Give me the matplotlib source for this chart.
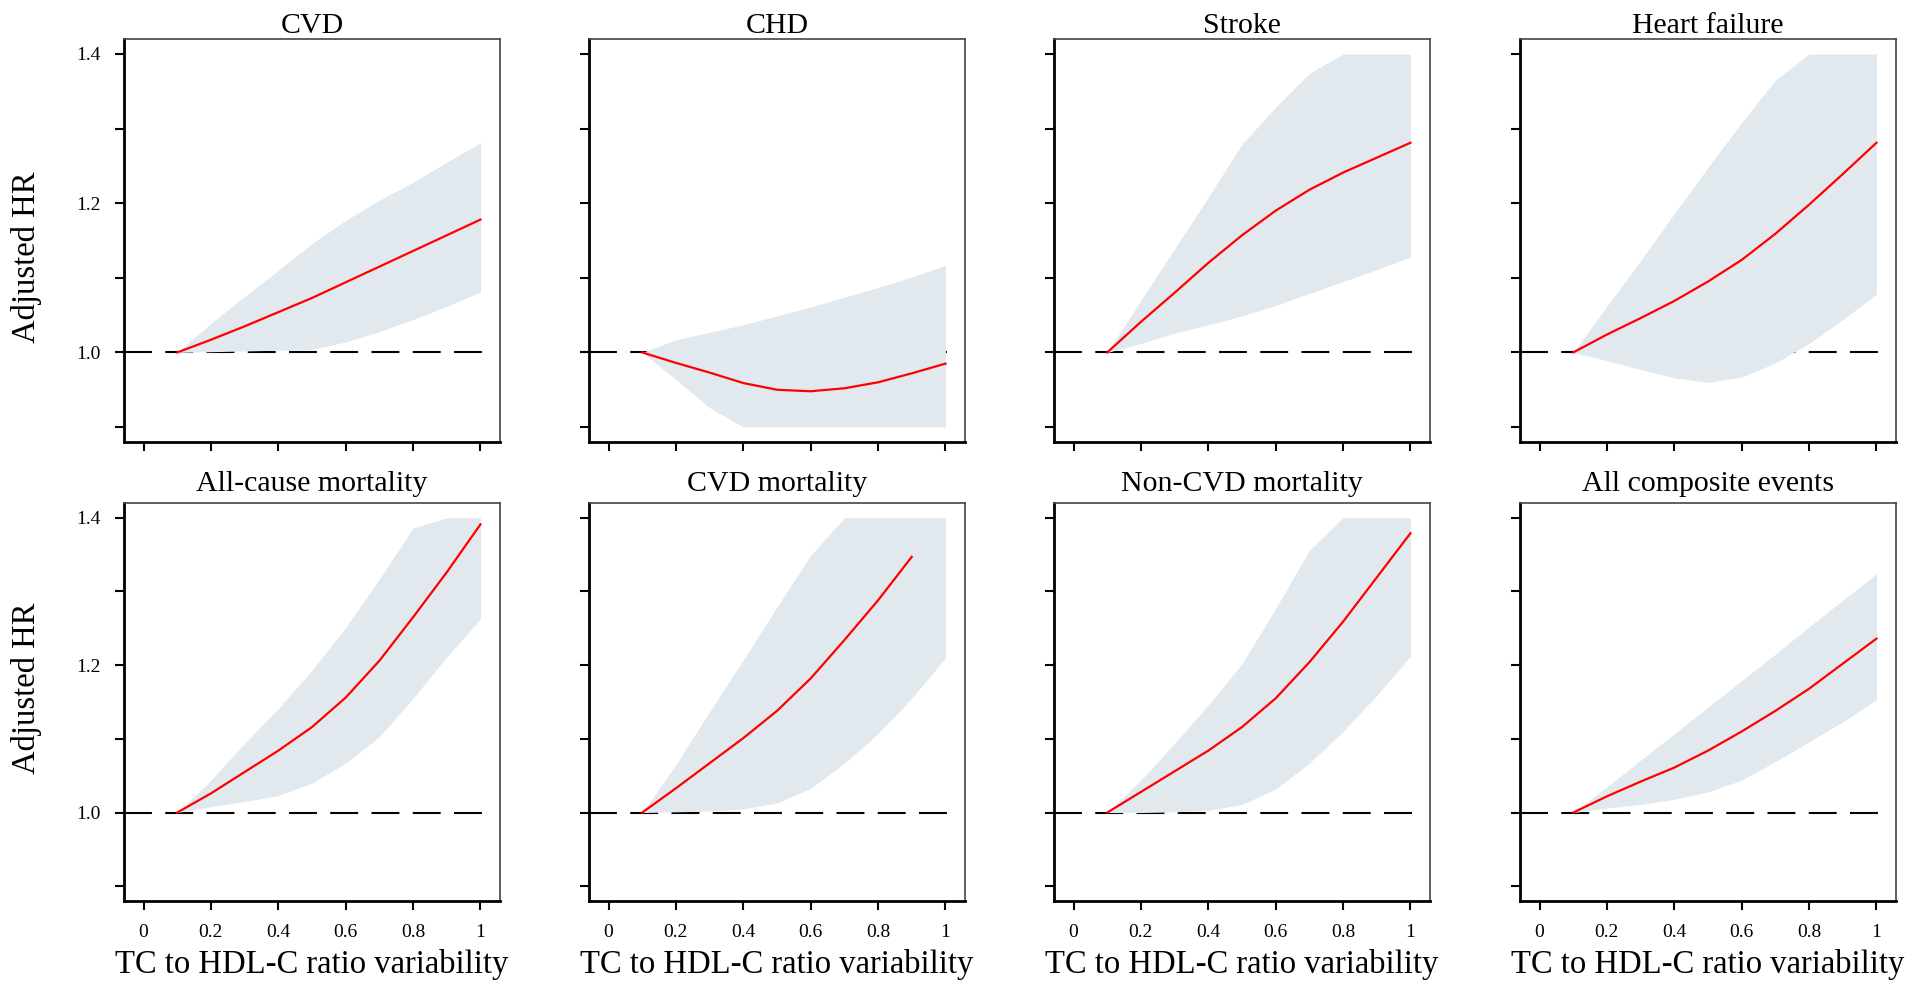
import numpy as np
import matplotlib.pyplot as plt

plt.rcParams['font.family'] = ['Liberation Serif', 'DejaVu Serif']

titles = ['CVD', 'CHD', 'Stroke', 'Heart failure',
          'All-cause mortality', 'CVD mortality', 'Non-CVD mortality', 'All composite events']

x = [0.1, 0.2, 0.3, 0.4, 0.5, 0.6, 0.7, 0.8, 0.9, 1.0]

# adjusted HR (red line), lower and upper 95% CI per outcome
cvd_hr = [1.0, 1.017, 1.035, 1.054, 1.073, 1.094, 1.115, 1.136, 1.157, 1.178]
cvd_lo = [1.0, 1.001, 1.002, 1.003, 1.004, 1.014, 1.028, 1.044, 1.062, 1.081]
cvd_hi = [1.0, 1.039, 1.075, 1.110, 1.146, 1.177, 1.204, 1.228, 1.255, 1.281]

chd_hr = [1.0, 0.986, 0.973, 0.959, 0.950, 0.948, 0.952, 0.960, 0.972, 0.985]
chd_lo = [1.0, 0.964, 0.926, 0.900, 0.900, 0.900, 0.900, 0.900, 0.900, 0.900]
chd_hi = [1.0, 1.017, 1.027, 1.037, 1.049, 1.061, 1.074, 1.087, 1.101, 1.117]

stroke_hr = [1.0, 1.041, 1.080, 1.120, 1.157, 1.190, 1.218, 1.241, 1.261, 1.281]
stroke_lo = [1.0, 1.012, 1.026, 1.037, 1.049, 1.063, 1.079, 1.095, 1.111, 1.128]
stroke_hi = [1.0, 1.070, 1.139, 1.208, 1.279, 1.329, 1.374, 1.400, 1.400, 1.400]

hf_hr = [1.0, 1.024, 1.046, 1.069, 1.095, 1.124, 1.159, 1.198, 1.239, 1.281]
hf_lo = [1.0, 0.989, 0.977, 0.966, 0.960, 0.967, 0.986, 1.012, 1.044, 1.078]
hf_hi = [1.0, 1.062, 1.123, 1.186, 1.248, 1.308, 1.365, 1.400, 1.400, 1.400]

allcause_hr = [1.0, 1.026, 1.055, 1.084, 1.116, 1.156, 1.206, 1.265, 1.326, 1.391]
allcause_lo = [1.0, 1.008, 1.015, 1.023, 1.040, 1.067, 1.103, 1.155, 1.211, 1.263]
allcause_hi = [1.0, 1.044, 1.094, 1.141, 1.193, 1.251, 1.317, 1.386, 1.400, 1.400]

cvdmort_hr = [1.0, 1.033, 1.067, 1.101, 1.138, 1.182, 1.234, 1.288, 1.347]
cvdmort_lo = [1.0, 1.001, 1.002, 1.005, 1.013, 1.033, 1.067, 1.107, 1.155, 1.210]
cvdmort_hi = [1.0, 1.065, 1.137, 1.207, 1.279, 1.349, 1.400, 1.400, 1.400, 1.400]

noncvd_hr = [1.0, 1.028, 1.056, 1.084, 1.116, 1.155, 1.204, 1.259, 1.319, 1.379]
noncvd_lo = [1.0, 1.000, 1.001, 1.003, 1.011, 1.032, 1.067, 1.110, 1.159, 1.212]
noncvd_hi = [1.0, 1.044, 1.094, 1.146, 1.202, 1.277, 1.356, 1.400, 1.400, 1.400]

comp_hr = [1.0, 1.022, 1.042, 1.061, 1.084, 1.110, 1.138, 1.168, 1.202, 1.236]
comp_lo = [1.0, 1.006, 1.011, 1.018, 1.028, 1.044, 1.069, 1.096, 1.123, 1.153]
comp_hi = [1.0, 1.035, 1.071, 1.107, 1.143, 1.179, 1.215, 1.252, 1.288, 1.324]

hrs = [cvd_hr, chd_hr, stroke_hr, hf_hr, allcause_hr, cvdmort_hr, noncvd_hr, comp_hr]
los = [cvd_lo, chd_lo, stroke_lo, hf_lo, allcause_lo, cvdmort_lo, noncvd_lo, comp_lo]
his = [cvd_hi, chd_hi, stroke_hi, hf_hi, allcause_hi, cvdmort_hi, noncvd_hi, comp_hi]

yticks = [0.9, 1.0, 1.1, 1.2, 1.3, 1.4]
ytick_labels = ['', '1.0', '', '1.2', '', '1.4']
xticks = [0, 0.2, 0.4, 0.6, 0.8, 1]
xtick_labels = ['0', '0.2', '0.4', '0.6', '0.8', '1']

band_color = '#E1E9EE'
W, H = 1912, 991
fig = plt.figure(figsize=(W / 100, H / 100), dpi=100)

lefts = [124, 589, 1054, 1520]
rows = [(39, 442), (503, 901)]
ylabel_y = [257, 688]

for i in range(8):
    r, c = divmod(i, 4)
    top, bot = rows[r]
    ax = fig.add_axes([lefts[c] / W, 1 - bot / H, 376 / W, (bot - top) / H])
    xlim = (-0.058, 1.058)
    ax.set_xlim(*xlim)
    ax.set_ylim(0.88, 1.42)

    lo = np.clip(los[i], 0.9, 1.4)
    hi = np.clip(his[i], 0.9, 1.4)
    ax.hlines(1.0, xlim[0], 1.02, colors='black', lw=1.5,
              linestyles=(0, (13.4, 6.4)), zorder=1)
    ax.fill_between(x, lo, hi, color=band_color, lw=0, zorder=2)
    ax.plot(x[:len(hrs[i])], hrs[i], color='red', lw=1.6, zorder=3)

    for s in ['left', 'bottom']:
        ax.spines[s].set_linewidth(2.0)
        ax.spines[s].set_color('black')
    for s in ['top', 'right']:
        ax.spines[s].set_linewidth(1.2)
        ax.spines[s].set_color('#444444')

    ax.set_yticks(yticks)
    ax.set_xticks(xticks)
    if c == 0:
        ax.set_yticklabels(ytick_labels)
        fig.text(27 / W, 1 - ylabel_y[r] / H, 'Adjusted HR', rotation=90,
                 ha='center', va='center', fontsize=23.5)
    else:
        ax.set_yticklabels([])
    if r == 1:
        ax.set_xticklabels(xtick_labels)
        ax.set_xlabel('TC to HDL-C ratio variability', fontsize=23.5, labelpad=6)
    else:
        ax.set_xticklabels([])
    ax.tick_params(direction='out', length=6.5, width=1.5, labelsize=14, pad=10)
    ax.set_title(titles[i], fontsize=21.5, pad=4 if r == 0 else 9)

fig.savefig('out.png', dpi=100)
